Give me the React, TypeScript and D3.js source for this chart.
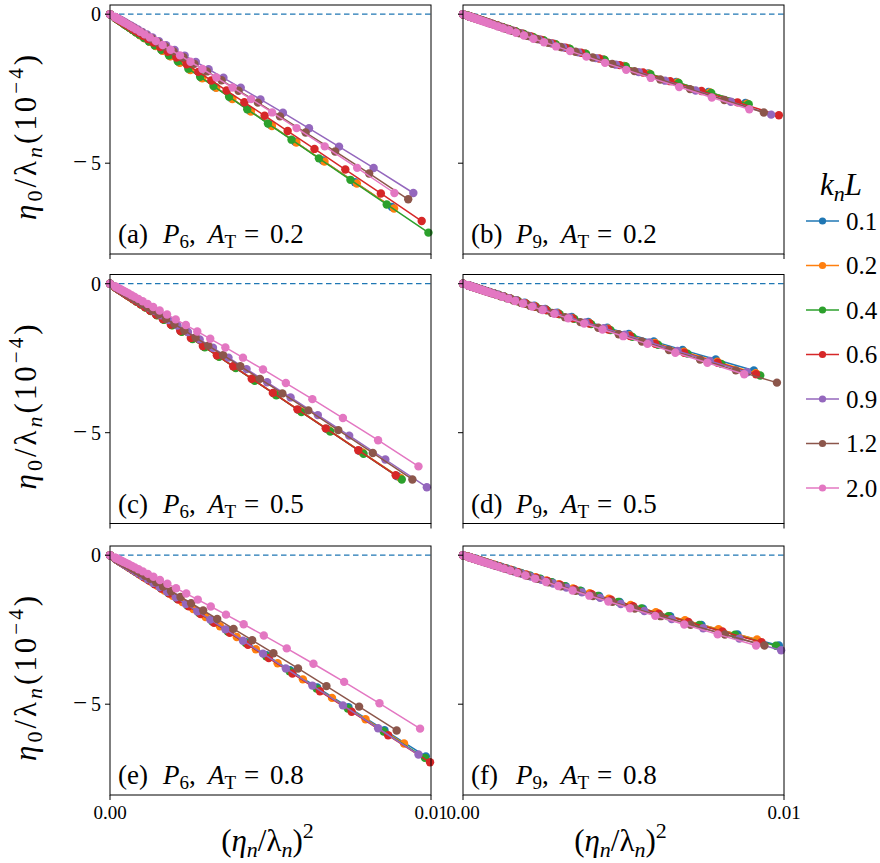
import React from 'react';
import * as d3 from 'd3';

// k_n L values (legend) and colours
const KL_LABELS = ['0.1', '0.2', '0.4', '0.6', '0.9', '1.2', '2.0'];
const COLORS = ['#1f77b4', '#ff7f0e', '#2ca02c', '#d62728', '#9467bd', '#8c564b', '#e377c2'];

// shared sampling of each run, as fraction of its largest (eta_n/lambda_n)^2
const FRAC = [1, 0.869, 0.755, 0.656, 0.57, 0.496, 0.431, 0.374, 0.325, 0.283, 0.246, 0.213, 0.185, 0.161, 0.14,
  0.122, 0.106, 0.092, 0.08, 0.07, 0.06, 0.052, 0.046, 0.04, 0.034, 0.03, 0.026, 0.022, 0.019, 0.017, 0];

// panel labels
const PANEL_TAG = ['(a)', '(b)', '(c)', '(d)', '(e)', '(f)'];
const PANEL_P = ['6', '9', '6', '9', '6', '9'];
const PANEL_AT = ['0.2', '0.2', '0.5', '0.5', '0.8', '0.8'];

// per-panel readings: last x, last y (1e-4), initial slope y/x near origin
const END_X_A = [0.00878, 0.00885, 0.00992, 0.00971, 0.00945, 0.00929, 0.00886];
const END_Y_A = [-6.47, -6.52, -7.33, -6.94, -6.0, -6.21, -6.0];
const SLOPE0_A = [-752, -752, -752, -700, -585, -620, -620];

const END_X_B = [0.0088, 0.00885, 0.0089, 0.00984, 0.0096, 0.00937, 0.00892];
const END_Y_B = [-2.98, -3.0, -3.02, -3.39, -3.37, -3.3, -3.19];
const SLOPE0_B = [-355, -355, -355, -355, -360, -365, -380];

const END_X_C = [0.00895, 0.00905, 0.00909, 0.0089, 0.00987, 0.00942, 0.00961];
const END_Y_C = [-6.46, -6.52, -6.57, -6.43, -6.83, -6.57, -6.13];
const SLOPE0_C = [-720, -720, -722, -722, -660, -670, -570];

const END_X_D = [0.00906, 0.00912, 0.00926, 0.00913, 0.00885, 0.00978, 0.00876];
const END_Y_D = [-2.91, -3.0, -3.08, -3.04, -2.97, -3.32, -3.04];
const SLOPE0_D = [-335, -340, -345, -345, -345, -360, -360];

const END_X_E = [0.00984, 0.00916, 0.00981, 0.00997, 0.00961, 0.00893, 0.00966];
const END_Y_E = [-6.75, -6.32, -6.8, -6.95, -6.69, -5.88, -5.82];
const SLOPE0_E = [-690, -700, -700, -700, -690, -630, -522];

const END_X_F = [0.00984, 0.00916, 0.00975, 0.0093, 0.00991, 0.00939, 0.00913];
const END_Y_F = [-3.03, -2.83, -3.04, -2.92, -3.19, -3.03, -3.03];
const SLOPE0_F = [-335, -335, -335, -335, -345, -350, -355];

const PANEL_DATA = [
  [END_X_A, END_Y_A, SLOPE0_A],
  [END_X_B, END_Y_B, SLOPE0_B],
  [END_X_C, END_Y_C, SLOPE0_C],
  [END_X_D, END_Y_D, SLOPE0_D],
  [END_X_E, END_Y_E, SLOPE0_E],
  [END_X_F, END_Y_F, SLOPE0_F],
];

const X_TICKS = [0, 0.01];
const X_TICK_LABELS = ['0.00', '0.01'];
const Y_TICKS = [0, -5];
const Y_TICK_LABELS = ['0', '5'];

const FONT = "'Liberation Serif', 'Times New Roman', serif";

const COL_X = [110, 463];
const PW = 321;
const ROW_TOP = [5, 274.5, 546];
const PH = 249;

function seriesPoints(xEnd: number, yEnd: number, s0: number): [number, number][] {
  const sEnd = yEnd / xEnd;
  return FRAC.map((f) => {
    const x = f * xEnd;
    const s = s0 + (sEnd - s0) * f;
    return [x, x * s] as [number, number];
  });
}

function Panel({ idx }: { idx: number }) {
  const col = idx % 2;
  const row = Math.floor(idx / 2);
  const x0 = COL_X[col];
  const top = ROW_TOP[row];
  const xs = d3.scaleLinear().domain([0, 0.01]).range([x0, x0 + PW]);
  const ys = d3.scaleLinear().domain([-8.047, 0.309]).range([top + PH, top]);
  const line = d3.line<[number, number]>().x((d) => xs(d[0])).y((d) => ys(d[1]));
  const [ex, ey, s0] = PANEL_DATA[idx];
  return (
    <g>
      <line x1={x0} x2={x0 + PW} y1={ys(0)} y2={ys(0)} stroke="#1f77b4" strokeWidth={1.3} strokeDasharray="5.5,3.5" />
      {KL_LABELS.map((_, k) => {
        const pts = seriesPoints(ex[k], ey[k], s0[k]);
        return (
          <g key={k}>
            <path d={line(pts) || ''} fill="none" stroke={COLORS[k]} strokeWidth={1.5} />
            {pts.map((p, j) => (
              <circle key={j} cx={xs(p[0])} cy={ys(p[1])} r={4.2} fill={COLORS[k]} />
            ))}
          </g>
        );
      })}
      <rect x={x0} y={top} width={PW} height={PH} fill="none" stroke="#000" strokeWidth={1} />
      {Y_TICKS.map((t, i) => (
        <g key={'y' + i}>
          <line x1={x0 - 5} x2={x0} y1={ys(t)} y2={ys(t)} stroke="#000" strokeWidth={1} />
          {col === 0 && (
            <text x={x0 - 9} y={ys(t)} dy="0.35em" textAnchor="end" fontSize={20}>
              {t < 0 && <tspan fontSize={25}>{'\u2212'}</tspan>}
              <tspan dx={t < 0 ? 4 : 0}>{Y_TICK_LABELS[i]}</tspan>
            </text>
          )}
        </g>
      ))}
      {X_TICKS.map((t, i) => (
        <g key={'x' + i}>
          <line x1={xs(t)} x2={xs(t)} y1={top + PH} y2={top + PH + 5} stroke="#000" strokeWidth={1} />
          {row === 2 && (
            <text x={xs(t)} y={top + PH + 24} textAnchor="middle" fontSize={19}>
              {X_TICK_LABELS[i]}
            </text>
          )}
        </g>
      ))}
      <text y={top + PH - 11} fontSize={27}>
        <tspan x={x0 + 8}>{PANEL_TAG[idx]}</tspan>
        <tspan x={x0 + 53} fontStyle="italic">P</tspan>
        <tspan fontSize={19} dy={5}>{PANEL_P[idx]}</tspan>
        <tspan dy={-5}>,</tspan>
        <tspan x={x0 + 98} fontStyle="italic">A</tspan>
        <tspan fontSize={19} dy={5}>T</tspan>
        <tspan x={x0 + 134} dy={-5}>=</tspan>
        <tspan x={x0 + 160}>{PANEL_AT[idx]}</tspan>
      </text>
      {row === 2 && (
        <text x={x0 + PW / 2 - 3} y={851} textAnchor="middle" fontSize={31}>
          <tspan>(</tspan>
          <tspan fontStyle="italic">η</tspan>
          <tspan fontStyle="italic" fontSize={22} dy={6}>n</tspan>
          <tspan dy={-6}>/λ</tspan>
          <tspan fontStyle="italic" fontSize={22} dy={6}>n</tspan>
          <tspan dy={-6}>)</tspan>
          <tspan fontSize={22} dy={-13}>2</tspan>
        </text>
      )}
      {col === 0 && (
        <text
          transform={`translate(36,${top + PH / 2 + 8}) rotate(-90)`}
          textAnchor="middle"
          fontSize={31}
          textLength={165}
          lengthAdjust="spacing"
        >
          <tspan fontStyle="italic">η</tspan>
          <tspan fontSize={22} dy={6}>0</tspan>
          <tspan dy={-6}>/λ</tspan>
          <tspan fontStyle="italic" fontSize={22} dy={6}>n</tspan>
          <tspan dy={-6}>(10</tspan>
          <tspan fontSize={21} dy={-13}>{'\u22124'}</tspan>
          <tspan dy={13}>)</tspan>
        </text>
      )}
    </g>
  );
}

function Legend() {
  const lx = 806;
  const y0 = 221;
  const step = 44.5;
  return (
    <g>
      <text x={841} y={195} textAnchor="middle" fontSize={31}>
        <tspan fontStyle="italic">k</tspan>
        <tspan fontStyle="italic" fontSize={22} dy={6}>n</tspan>
        <tspan fontStyle="italic" dy={-6}>L</tspan>
      </text>
      {KL_LABELS.map((lab, k) => (
        <g key={k}>
          <line x1={lx} x2={lx + 33} y1={y0 + k * step} y2={y0 + k * step} stroke={COLORS[k]} strokeWidth={1.5} />
          <circle cx={lx + 16.5} cy={y0 + k * step} r={3.6} fill={COLORS[k]} />
          <text x={846} y={y0 + k * step} dy="0.35em" fontSize={25}>
            {lab}
          </text>
        </g>
      ))}
    </g>
  );
}

export default function App() {
  return (
    <svg
      width={880}
      height={863}
      style={{ position: 'absolute', left: 0, top: 0, display: 'block', fontFamily: FONT }}
    >
      <rect x={0} y={0} width={880} height={863} fill="#fff" />
      {[0, 1, 2, 3, 4, 5].map((i) => (
        <Panel key={i} idx={i} />
      ))}
      <Legend />
    </svg>
  );
}
